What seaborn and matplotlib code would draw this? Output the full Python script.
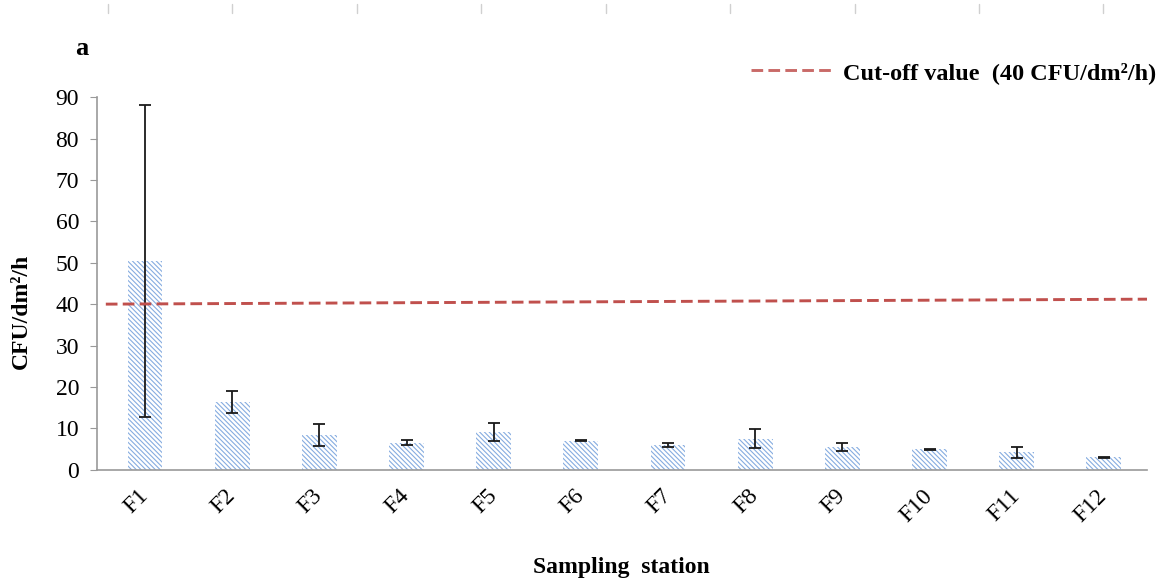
import matplotlib
matplotlib.use("Agg")
import matplotlib.pyplot as plt
import seaborn as sns
import pandas as pd
from matplotlib.lines import Line2D

stations = ["F1", "F2", "F3", "F4", "F5", "F6", "F7", "F8", "F9", "F10", "F11", "F12"]
cfu_mean = [50.5, 16.3, 8.4, 6.5, 9.1, 7.0, 5.9, 7.5, 5.5, 4.9, 4.2, 3.0]
cfu_err = [37.7, 2.7, 2.6, 0.6, 2.2, 0.15, 0.5, 2.3, 0.9, 0.15, 1.3, 0.15]
cutoff = [40.0, 41.2]  # Excel line drifts slightly across the chart

df = pd.DataFrame({"station": stations, "cfu": cfu_mean})

sns.set_style("white")
plt.rcParams["font.family"] = ["Liberation Serif", "DejaVu Serif"]
plt.rcParams["hatch.linewidth"] = 0.8
plt.rcParams["text.color"] = "black"
plt.rcParams["axes.labelcolor"] = "black"
plt.rcParams["xtick.color"] = "black"
plt.rcParams["ytick.color"] = "black"

fig = plt.figure(figsize=(11.7, 5.85), dpi=100)
ax = fig.add_axes([0.083, 0.197, 0.897, 0.637])

blue = "#86ACE0"
red = "#C0504D"
sns.barplot(data=df, x="station", y="cfu", ax=ax, width=0.4,
            color="white", edgecolor=blue, linewidth=0, hatch="\\" * 7)

xs = ax.get_xticks()
ax.errorbar(xs, cfu_mean, yerr=cfu_err, fmt="none", ecolor="#1a1a1a",
            elinewidth=1.3, capsize=4.5, capthick=1.3)

ax.plot([xs[0] - 0.45, xs[-1] + 0.5], cutoff, color=red,
        linestyle=(0, (4, 1.8)), linewidth=2.1)

ax.set_xlim(-0.55, len(stations) - 0.51)
ax.set_ylim(0, 90)
ax.set_yticks(range(0, 91, 10))

for s in ["top", "right"]:
    ax.spines[s].set_visible(False)
for s in ["left", "bottom"]:
    ax.spines[s].set_color("#999999")
    ax.spines[s].set_linewidth(1.2)

ax.tick_params(axis="y", which="both", left=True, length=5, color="#999999",
               labelcolor="black", labelsize=17, pad=8)
ax.tick_params(axis="x", bottom=False, labelcolor="black", labelsize=17, pad=13)
plt.setp(ax.get_xticklabels(), rotation=45, ha="right", va="center",
         rotation_mode="anchor")

ax.set_xlabel("Sampling  station", fontsize=17, fontweight="bold", labelpad=22)
ax.set_ylabel("CFU/dm²/h", fontsize=17, fontweight="bold")
ax.yaxis.set_label_coords(-0.062, 0.426)

fig.text(0.064, 0.906, "a", fontsize=19, fontweight="bold")

handle = Line2D([], [], color=red, linestyle=(0, (4, 1.8)), linewidth=2.1, alpha=0.85)
ax.legend([handle], ["Cut-off value  (40 CFU/dm²/h)"], loc="center right",
          bbox_to_anchor=(1.03, 1.065), frameon=False,
          prop={"weight": "bold", "size": 17.5}, handlelength=3.4,
          handletextpad=0.4, labelcolor="black")

# faint marks left over along the top edge
for xm in [108, 232, 357, 481, 606, 730, 855, 979, 1103]:
    fig.add_artist(Line2D([xm / 1170, xm / 1170], [1 - 4 / 585, 1 - 13 / 585],
                          color="#d0d0d0", linewidth=1))

fig.savefig("out.png", dpi=100)
